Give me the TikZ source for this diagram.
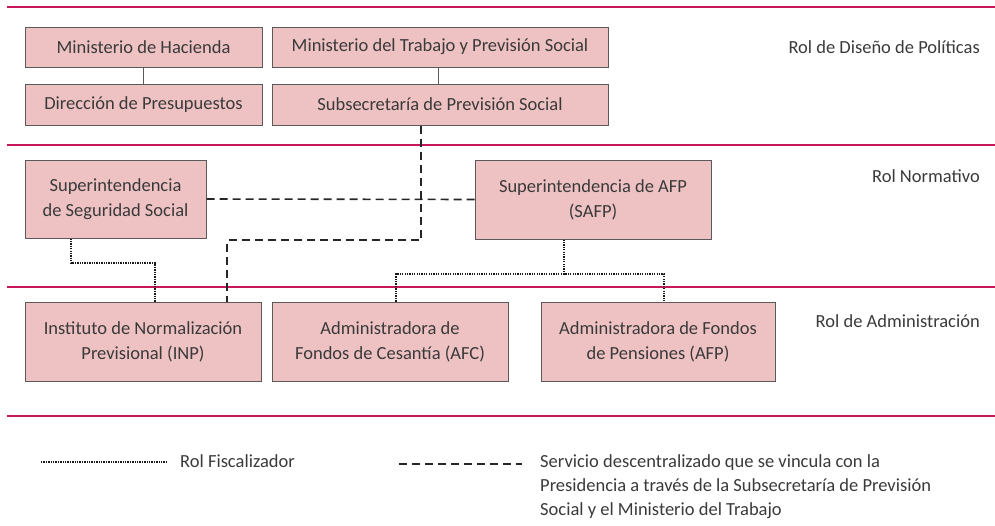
\documentclass[tikz,border=0pt]{standalone}
\usepackage{fontspec}
\setmainfont{Carlito}
\definecolor{rojo}{HTML}{C8175A}
\definecolor{rosa}{HTML}{EEC1C3}
\definecolor{borde}{HTML}{5A5A5A}
\definecolor{texto}{HTML}{3A3A3A}
\tikzset{
	box/.style={draw=borde, fill=rosa, line width=1pt, inner sep=0pt, align=center,
		text=texto, font=\fontsize{18.5}{25}\selectfont},
	rol/.style={anchor=base east, inner sep=0pt, text=texto, font=\fontsize{18.5}{25}\selectfont},
	fisc/.style={line width=2pt, dash pattern=on 1.3pt off 1.1pt, draw=black!90},
	desc/.style={line width=1.6pt, dash pattern=on 8pt off 5pt, draw=black!85},
}

\begin{document}
\begin{tikzpicture}[x=1pt, y=-1pt]
	\useasboundingbox (0,0) rectangle (995,525);
	% franjas
	\foreach \y in {7,145,287,416}
		\draw[rojo, line width=2pt] (7,\y) -- (995,\y);
	\node[rol] (r1) at (980,53)  {Rol de Diseño de Políticas};
	\node[rol] (r2) at (980,182) {Rol Normativo};
	\node[rol] (r3) at (980,327) {Rol de Administración};
	% cajas
	\node[box, minimum width=237pt, minimum height=40pt] (mh)   at (143.5,47)   {Ministerio de Hacienda};
	\node[box, minimum width=237pt, minimum height=41pt] (dp)   at (143.5,104.5){Dirección de Presupuestos};
	\node[box, minimum width=336pt, minimum height=40pt] (mt)   at (440,47)     {Ministerio del Trabajo y Previsión Social};
	\node[box, minimum width=336pt, minimum height=41pt] (sps)  at (440,104.5)  {Subsecretaría de Previsión Social};
	\node[box, minimum width=181pt, minimum height=78pt] (suss) at (115.5,199)  {Superintendencia\\de Seguridad Social};
	\node[box, minimum width=236pt, minimum height=79pt] (safp) at (593,199.5)  {Superintendencia de AFP\\(SAFP)};
	\node[box, minimum width=236pt, minimum height=79pt] (inp)  at (143,341.5)  {Instituto de Normalización\\Previsional (INP)};
	\node[box, minimum width=236pt, minimum height=79pt] (afc)  at (390,341.5)  {Administradora de\\Fondos de Cesantía (AFC)};
	\node[box, minimum width=234pt, minimum height=79pt] (afp)  at (658,341.5)  {Administradora de Fondos\\de Pensiones (AFP)};
	% lineas
	\draw[borde, line width=1pt] (mh) -- (dp);
	\draw[borde, line width=1pt] ([xshift=-2pt]mt.south) -- ([xshift=-2pt]sps.north);
	\draw[desc] (suss.east) -- (safp.west);
	\draw[desc] ([xshift=-19pt]sps.south) |- (227,240) -- ([xshift=84pt]inp.north);
	\draw[fisc] ([xshift=-45pt]suss.south) |- (155,263) -- ([xshift=12pt]inp.north);
	\coordinate (j) at (564,274);
	\draw[fisc] ([xshift=-29pt]safp.south) -- (j);
	\draw[fisc] ([xshift=6pt]afc.north) |- (j) -| ([xshift=6pt]afp.north);
	% leyenda
	\coordinate (f1) at (41,462);
	\coordinate (f2) at (166,462);
	\draw[fisc, line width=1.5pt] (f1) -- (f2);
	\node[anchor=base west, inner sep=0pt, text=texto, font=\fontsize{18.5}{25}\selectfont] (lf) at (180,467) {Rol Fiscalizador};
	\coordinate (d1) at (399,464);
	\coordinate (d2) at (522,464);
	\draw[desc] (d1) -- (d2);
	\node[anchor=west, inner sep=0pt, align=left, text=texto, font=\fontsize{18.5}{24}\selectfont] (ld) at (540,487)
		{Servicio descentralizado que se vincula con la\\Presidencia a través de la Subsecretaría de Previsión\\Social y el Ministerio del Trabajo};
\end{tikzpicture}
\end{document}
